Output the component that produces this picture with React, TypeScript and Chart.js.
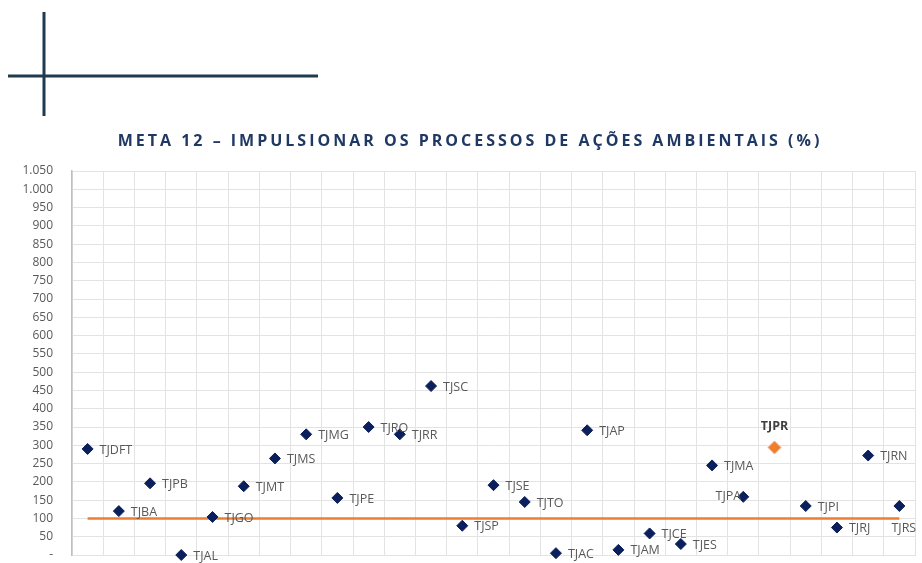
import React, { useEffect, useRef } from "react";
import { Chart, registerables } from "chart.js";

Chart.register(...registerables);

// ---- data ----
const courts = [
  "TJDFT", "TJBA", "TJPB", "TJAL", "TJGO", "TJMT", "TJMS", "TJMG", "TJPE",
  "TJRO", "TJRR", "TJSC", "TJSP", "TJSE", "TJTO", "TJAC", "TJAP", "TJAM",
  "TJCE", "TJES", "TJMA", "TJPA", "TJPR", "TJPI", "TJRJ", "TJRN", "TJRS",
];
const values = [
  290, 120, 196, 0, 104, 188, 264, 330, 156,
  350, 330, 462, 80, 191, 145, 5, 341, 14,
  59, 30, 245, 159, 294, 134, 75, 272, 134,
];
const targetValue = 100;
const highlighted = "TJPR";
const yMin = 0;
const yMax = 1050;
const yStep = 50;
const titleText = "META 12 – IMPULSIONAR OS PROCESSOS DE AÇÕES AMBIENTAIS (%)";

// label placement (style only)
const labelSide: Record<string, string> = { TJPR: "top", TJPA: "left", TJRS: "bottom" };

const NAVY = "#0B1F5C";
const ORANGE = "#ED7D31";
const FONT = "'Open Sans', 'DejaVu Sans', sans-serif";

const formatTick = (v: number) => {
  if (v === 0) return "-";
  return v.toLocaleString("pt-BR");
};

export default function App() {
  const ref = useRef<HTMLCanvasElement | null>(null);

  useEffect(() => {
    if (!ref.current) return;

    const decoPlugin = {
      id: "deco",
      beforeDraw(chart: any) {
        const ctx = chart.ctx;
        ctx.save();
        ctx.strokeStyle = "#1F3B4D";
        ctx.lineWidth = 3;
        ctx.beginPath();
        ctx.moveTo(44, 12);
        ctx.lineTo(44, 116);
        ctx.moveTo(8, 76);
        ctx.lineTo(318, 76);
        ctx.stroke();
        ctx.restore();
      },
      afterDraw(chart: any) {
        const ctx = chart.ctx;
        ctx.save();
        ctx.font = `bold 16px ${FONT}`;
        (ctx as any).letterSpacing = "3px";
        ctx.fillStyle = "#1F3864";
        ctx.textAlign = "center";
        ctx.textBaseline = "middle";
        ctx.fillText(titleText, chart.width / 2 + 9, 141);
        ctx.restore();
      },
    };

    const labelPlugin = {
      id: "pointLabels",
      afterDatasetsDraw(chart: any) {
        const ctx = chart.ctx;
        const meta = chart.getDatasetMeta(0);
        ctx.save();
        meta.data.forEach((pt: any, i: number) => {
          const name = courts[i];
          const side = labelSide[name] || "right";
          const isHi = name === highlighted;
          ctx.font = `${isHi ? "bold " : ""}12.5px ${FONT}`;
          ctx.fillStyle = isHi ? "#404040" : "#595959";
          ctx.textBaseline = "middle";
          if (side === "right") {
            ctx.textAlign = "left";
            ctx.fillText(name, pt.x + 12, pt.y + 1);
          } else if (side === "left") {
            ctx.textAlign = "right";
            ctx.fillText(name, pt.x - 2, pt.y);
          } else if (side === "top") {
            ctx.textAlign = "center";
            ctx.fillText(name, pt.x, pt.y - 21);
          } else {
            ctx.textAlign = "left";
            ctx.fillText(name, pt.x - 8, pt.y + 22);
          }
        });
        ctx.restore();
      },
    };

    const chart = new Chart(ref.current, {
      type: "line",
      data: {
        labels: courts,
        datasets: [
          {
            label: "Tribunais",
            data: values,
            showLine: false,
            pointStyle: "rectRot",
            pointRadius: courts.map((c) => (c === highlighted ? 6.5 : 5.5)),
            pointBackgroundColor: courts.map((c) => (c === highlighted ? ORANGE : NAVY)),
            pointBorderColor: courts.map((c) => (c === highlighted ? "#F4B183" : NAVY)),
            pointBorderWidth: 1,
            clip: false,
            order: 0,
          },
          {
            label: "Meta",
            data: courts.map(() => targetValue),
            borderColor: ORANGE,
            borderWidth: 2.5,
            pointRadius: 0,
            fill: false,
            order: 1,
          },
        ],
      },
      options: {
        animation: false,
        responsive: false,
        devicePixelRatio: 1,
        layout: { padding: { top: 171, right: 7, bottom: 8, left: 0 } },
        plugins: {
          legend: { display: false },
          title: { display: false },
          tooltip: { enabled: false },
        },
        scales: {
          x: {
            type: "category",
            offset: true,
            grid: { offset: true, color: "#E3E3E3", drawTicks: false },
            border: { display: true, color: "#E3E3E3" },
            ticks: { display: false },
            afterFit: (scale: any) => {
              scale.height = 0;
            },
          },
          y: {
            min: yMin,
            max: yMax,
            ticks: {
              stepSize: yStep,
              padding: 19,
              color: "#595959",
              font: { family: FONT, size: 12 },
              callback: (v: any) => formatTick(Number(v)),
            },
            grid: { color: "#E3E3E3", drawTicks: false },
            border: { display: true, color: "#BFBFBF", width: 1.5 },
            afterFit: (scale: any) => {
              scale.width = 72;
              scale.paddingTop = 6;
              scale.paddingBottom = 6;
            },
          },
        },
      },
      plugins: [decoPlugin, labelPlugin],
    });

    return () => chart.destroy();
  }, []);

  return (
    <div style={{ position: "absolute", left: 0, top: 0, width: 922, height: 563, background: "#fff" }}>
      <canvas ref={ref} width={922} height={563} style={{ display: "block", width: 922, height: 563 }} />
    </div>
  );
}
